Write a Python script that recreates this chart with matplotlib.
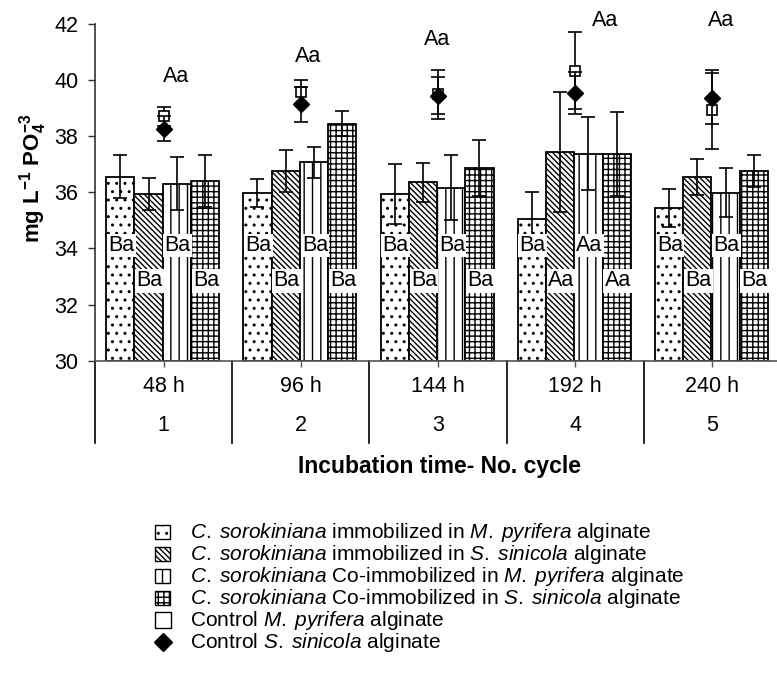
import matplotlib
matplotlib.use("Agg")
import matplotlib.pyplot as plt
from matplotlib.lines import Line2D
from matplotlib.patches import Rectangle
import numpy as np

plt.rcParams['font.family'] = ['Liberation Sans', 'DejaVu Sans']
plt.rcParams['mathtext.fontset'] = 'custom'
plt.rcParams['mathtext.rm'] = 'Liberation Sans'
plt.rcParams['mathtext.it'] = 'Liberation Sans:italic'
plt.rcParams['mathtext.bf'] = 'Liberation Sans:bold'
plt.rcParams['hatch.linewidth'] = 1.0

# ---------------- data ----------------
time_labels = ["48 h", "96 h", "144 h", "192 h", "240 h"]
cycle_labels = ["1", "2", "3", "4", "5"]

imm_mp = [36.56, 35.99, 35.94, 35.04, 35.43]
imm_mp_err = [0.76, 0.50, 1.07, 0.96, 0.68]
imm_ss = [35.93, 36.76, 36.36, 37.45, 36.55]
imm_ss_err = [0.57, 0.76, 0.69, 2.14, 0.65]
coimm_mp = [36.31, 37.07, 36.17, 37.38, 35.99]
coimm_mp_err = [0.95, 0.55, 1.15, 1.30, 0.88]
coimm_ss = [36.41, 38.45, 36.86, 37.38, 36.76]
coimm_ss_err = [0.92, 0.45, 1.00, 1.50, 0.57]

ctrl_mp = [38.71, 39.57, 39.50, 40.33, 38.95]
ctrl_mp_err = [0.33, 0.45, 0.87, 1.37, 1.40]
ctrl_ss = [38.27, 39.14, 39.45, 39.54, 39.35]
ctrl_ss_err = [0.44, 0.62, 0.65, 0.76, 0.90]

bar_letters = [["Ba", "Ba", "Ba", "Ba"],
               ["Ba", "Ba", "Ba", "Ba"],
               ["Ba", "Ba", "Ba", "Ba"],
               ["Ba", "Aa", "Aa", "Aa"],
               ["Ba", "Ba", "Ba", "Ba"]]
ctrl_letters = ["Aa", "Aa", "Aa", "Aa", "Aa"]

legend_labels = [
    r"$\mathit{C.\;sorokiniana}$ immobilized in $\mathit{M.\;pyrifera}$ alginate",
    r"$\mathit{C.\;sorokiniana}$ immobilized in $\mathit{S.\;sinicola}$ alginate",
    r"$\mathit{C.\;sorokiniana}$ Co-immobilized in $\mathit{M.\;pyrifera}$ alginate",
    r"$\mathit{C.\;sorokiniana}$ Co-immobilized in $\mathit{S.\;sinicola}$ alginate",
    r"Control $\mathit{M.\;pyrifera}$ alginate",
    r"Control $\mathit{S.\;sinicola}$ alginate",
]

# ---------------- style / layout ----------------
W, H = 777, 697
fig = plt.figure(figsize=(W / 100, H / 100), dpi=100)
ax = fig.add_axes([95 / W, 1 - 360.7 / H, (781 - 95) / W, 336.7 / H])

n = len(time_labels)
centers = np.arange(n) + 0.5
bw = 0.206
hatches = ['..', '\\\\\\\\\\\\', '||', '+++']
series = [imm_mp, imm_ss, coimm_mp, coimm_ss]
errs = [imm_mp_err, imm_ss_err, coimm_mp_err, coimm_ss_err]

for j, (vals, ee, h) in enumerate(zip(series, errs, hatches)):
    xs = centers + (j - 1.5) * bw - 0.007
    ax.bar(xs, np.array(vals) - 30, bottom=30, width=bw, color='white',
           edgecolor='black', linewidth=1.3, hatch=h, zorder=2)
    ax.errorbar(xs, vals, yerr=ee, fmt='none', ecolor='black', elinewidth=1.2,
                capsize=5, capthick=1.2, zorder=3)

ax.errorbar(centers, ctrl_mp, yerr=ctrl_mp_err, fmt='s', color='black',
            mfc='white', mec='black', ms=7, mew=1.2, elinewidth=1.2,
            capsize=5, capthick=1.2, zorder=4)
ax.errorbar(centers, ctrl_ss, yerr=ctrl_ss_err, fmt='D', color='black',
            mfc='black', mec='black', ms=8, elinewidth=1.2,
            capsize=5, capthick=1.2, zorder=5)

# letters in bars
label_y = [34.1, 32.85, 34.1, 32.85]
for i in range(n):
    for j in range(4):
        x = centers[i] + (j - 1.5) * bw
        ax.text(x, label_y[j], bar_letters[i][j], ha='center', va='center',
                fontsize=15.5, zorder=6,
                bbox=dict(facecolor='white', edgecolor='none', pad=1.0))

ctrl_letter_y = [40.12, 40.83, 41.43, 42.14, 42.14]
ctrl_letter_dx = [0.09, 0.05, -0.01, 0.22, 0.06]
for i in range(n):
    ax.text(centers[i] + ctrl_letter_dx[i], ctrl_letter_y[i], ctrl_letters[i],
            ha='center', va='center', fontsize=15.5, zorder=6, clip_on=False)

ax.set_xlim(0, n)
ax.set_ylim(30, 42)
ax.set_yticks(np.arange(30, 43, 2))
ax.set_xticks(centers)
ax.set_xticklabels([])
ax.tick_params(axis='y', direction='out', length=5, width=1, labelsize=15.5, pad=7,
               color='#333333')
ax.tick_params(axis='x', direction='out', length=4, width=1, color='#555555')
for s in ['top', 'right']:
    ax.spines[s].set_visible(False)
ax.spines['left'].set_color('#333333')
ax.spines['bottom'].set_color('#555555')
ax.spines['left'].set_linewidth(1.2)
ax.spines['bottom'].set_linewidth(1.2)

# category table below the axis
trans = ax.get_xaxis_transform()
for k in range(n):
    ax.plot([k, k], [0, -0.2445], transform=trans, color='black', lw=1.2,
            clip_on=False)
for i in range(n):
    ax.text(centers[i], -0.0772, time_labels[i], transform=trans, ha='center',
            va='center', fontsize=15.5)
    ax.text(centers[i], -0.1939, cycle_labels[i], transform=trans, ha='center',
            va='center', fontsize=15.5)

fig.text(439 / W, 1 - 467 / H, "Incubation time- No. cycle", ha='center',
         va='center', fontsize=16.5, fontweight='bold')
fig.text(33 / W, 1 - 178 / H, r"mg L$^{\mathbf{-1}}$ PO$_{\mathbf{4}}^{\mathbf{-3}}$",
         rotation=90, ha='center', va='center', fontsize=16, fontweight='bold')

# legend drawn manually in figure pixels
row_y = [532, 554, 576, 598, 620, 642]
for k in range(4):
    yc = row_y[k]
    fig.add_artist(Rectangle((155 / W, 1 - (yc + 7) / H), 15 / W, 14 / H,
                             transform=fig.transFigure, facecolor='white',
                             edgecolor='black', lw=1.0, hatch=hatches[k]))
fig.add_artist(Line2D([162.5 / W], [1 - row_y[4] / H], transform=fig.transFigure,
                      marker='s', ls='none', mfc='white', mec='black', ms=11, mew=1.0))
fig.add_artist(Line2D([162.5 / W], [1 - row_y[5] / H], transform=fig.transFigure,
                      marker='D', ls='none', mfc='black', mec='black', ms=9.5))
for k in range(6):
    fig.text(190 / W, 1 - (row_y[k] + 6) / H, legend_labels[k], ha='left',
             va='baseline', fontsize=15)

fig.savefig("out.png", dpi=100)
